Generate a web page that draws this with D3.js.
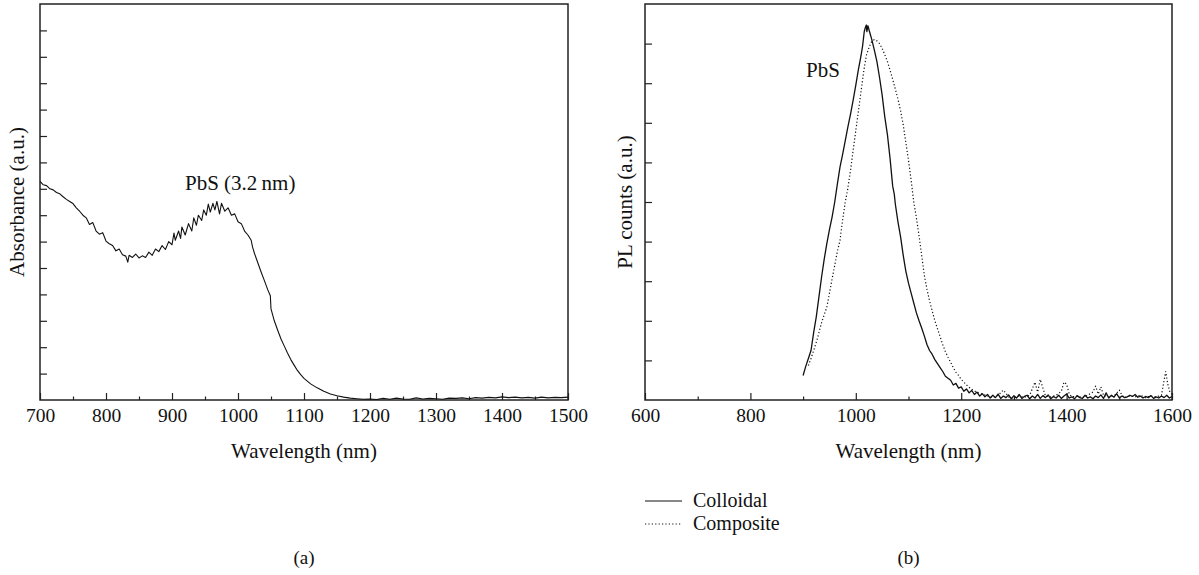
<!DOCTYPE html>
<html>
<head>
<meta charset="utf-8">
<script src="https://cdn.jsdelivr.net/npm/d3@7"></script>
<style>
  body { margin: 0; background: white; }
  svg { display: block; }
  svg text { font-family: "Liberation Serif", "Times New Roman", serif; fill: #111; }
</style>
</head>
<body>
<div id="chart"></div>
<script>
// (a) absorbance spectrum, [wavelength nm, absorbance a.u.]
const absorbance = [
  [700,0.828],[705,0.815],[710,0.812],[715,0.800],[720,0.796],[725,0.786],[730,0.781],[735,0.770],
  [740,0.760],[745,0.752],[750,0.744],[755,0.728],[760,0.715],[765,0.700],[770,0.690],[775,0.665],
  [780,0.672],[785,0.640],[790,0.628],[795,0.634],[800,0.602],[805,0.592],[810,0.585],[815,0.565],
  [820,0.572],[825,0.550],[830,0.545],[833,0.522],[835,0.548],[840,0.540],[845,0.553],[850,0.538],
  [855,0.546],[860,0.540],[865,0.560],[870,0.548],[875,0.572],[880,0.562],[885,0.585],[890,0.570],
  [895,0.600],[900,0.588],[903,0.632],[905,0.605],[910,0.640],[913,0.612],[915,0.655],[920,0.625],
  [925,0.668],[930,0.640],[933,0.690],[937,0.662],[940,0.700],[945,0.680],[948,0.720],[952,0.700],
  [955,0.742],[958,0.712],[962,0.745],[965,0.720],[968,0.752],[972,0.705],[975,0.745],[980,0.715],
  [985,0.728],[990,0.700],[995,0.705],[1000,0.675],[1005,0.668],[1010,0.640],[1015,0.625],[1020,0.605],
  [1022,0.580],[1025,0.555],[1030,0.520],[1035,0.485],[1040,0.452],[1045,0.418],[1049,0.395],[1050,0.345],
  [1055,0.300],[1060,0.265],[1065,0.232],[1070,0.205],[1075,0.178],[1080,0.153],[1085,0.132],[1090,0.112],
  [1095,0.096],[1100,0.082],[1110,0.061],[1120,0.046],[1130,0.033],[1140,0.023],[1150,0.016],[1160,0.011],
  [1170,0.007],[1180,0.005],[1190,0.003],[1200,0.004],[1210,0.002],[1220,0.006],[1230,0.003],[1240,0.007],
  [1250,0.004],[1260,0.003],[1270,0.008],[1280,0.004],[1290,0.006],[1300,0.005],[1310,0.003],[1320,0.007],
  [1330,0.006],[1340,0.008],[1350,0.005],[1360,0.009],[1370,0.007],[1380,0.010],[1390,0.008],[1400,0.012],
  [1410,0.009],[1420,0.011],[1430,0.008],[1440,0.010],[1450,0.007],[1460,0.011],[1470,0.008],[1480,0.010],
  [1490,0.009],[1500,0.011]
];

// (b) photoluminescence, [wavelength nm, counts a.u.]
const colloidal = [
  [900,0.62],[905,0.85],[910,1.05],[915,1.25],[920,1.70],[925,2.10],[930,2.60],[935,3.10],[940,3.55],
  [945,3.95],[950,4.30],[955,4.62],[960,5.00],[965,5.45],[970,5.88],[975,6.20],[980,6.55],[985,6.90],
  [990,7.22],[995,7.57],[1000,7.95],[1005,8.35],[1010,8.70],[1013,8.95],[1016,9.30],[1018,9.40],
  [1020,9.47],[1021,9.30],[1023,9.45],[1025,9.35],[1030,9.12],[1035,8.85],[1040,8.55],[1045,8.15],
  [1050,7.70],[1055,7.15],[1060,6.70],[1065,6.10],[1070,5.40],[1073,5.20],[1075,4.95],[1080,4.50],
  [1085,4.12],[1090,3.65],[1095,3.25],[1100,2.95],[1105,2.70],[1110,2.45],[1115,2.20],[1120,2.00],
  [1125,1.82],[1130,1.62],[1135,1.40],[1140,1.25],[1145,1.15],[1150,1.02],[1155,0.92],[1160,0.82],
  [1165,0.72],[1170,0.60],[1175,0.55],[1180,0.50],[1185,0.38],[1190,0.42],[1195,0.30],[1200,0.33],
  [1205,0.22],[1210,0.28],[1215,0.18],[1220,0.24],[1225,0.14],[1230,0.20],[1235,0.10],[1240,0.16],
  [1245,0.08],[1250,0.14],[1255,0.05],[1260,0.12],[1265,0.06],[1270,0.15],[1275,0.04],[1280,0.10],
  [1285,0.06],[1290,0.13],[1295,0.03],[1300,0.11],[1305,0.05],[1310,0.14],[1315,0.04],[1320,0.09],
  [1325,0.12],[1330,0.03],[1335,0.10],[1340,0.05],[1345,0.14],[1350,0.04],[1355,0.11],[1360,0.06],
  [1365,0.13],[1370,0.03],[1375,0.09],[1380,0.05],[1385,0.12],[1390,0.04],[1395,0.10],[1400,0.15],
  [1405,0.05],[1410,0.08],[1415,0.03],[1420,0.11],[1425,0.06],[1430,0.04],[1435,0.12],[1440,0.05],
  [1445,0.08],[1450,0.03],[1455,0.10],[1460,0.06],[1465,0.13],[1470,0.04],[1475,0.18],[1480,0.05],
  [1485,0.12],[1490,0.07],[1495,0.16],[1500,0.05],[1505,0.10],[1510,0.06],[1515,0.08],[1520,0.12],
  [1525,0.09],[1530,0.14],[1535,0.07],[1540,0.10],[1545,0.05],[1550,0.09],[1555,0.06],[1560,0.11],
  [1565,0.04],[1570,0.08],[1575,0.05],[1580,0.10],[1585,0.06],[1590,0.12],[1595,0.05],[1600,0.09]
];

const composite = [
  [910,0.87],[915,1.05],[920,1.25],[926,1.50],[930,1.70],[935,1.95],[940,2.15],[945,2.34],[950,2.70],
  [955,3.05],[960,3.40],[965,3.75],[970,4.03],[975,4.55],[980,5.00],[985,5.35],[990,5.80],[995,6.31],
  [1000,6.80],[1005,7.30],[1010,7.80],[1015,8.30],[1020,8.70],[1025,8.90],[1030,9.05],[1035,9.10],
  [1040,9.07],[1045,9.00],[1050,8.88],[1055,8.72],[1060,8.55],[1065,8.33],[1070,8.10],[1075,7.85],
  [1080,7.60],[1085,7.30],[1090,6.95],[1095,6.50],[1100,6.05],[1105,5.55],[1110,5.00],[1115,4.60],
  [1120,4.15],[1125,3.65],[1130,3.15],[1135,2.80],[1140,2.50],[1145,2.25],[1150,2.00],[1155,1.80],
  [1160,1.60],[1165,1.40],[1170,1.22],[1175,1.08],[1180,0.95],[1185,0.82],[1190,0.70],[1195,0.62],
  [1200,0.52],[1205,0.45],[1210,0.38],[1215,0.32],[1220,0.27],[1225,0.23],[1230,0.19],[1240,0.15],
  [1250,0.10],[1260,0.06],[1270,0.12],[1280,0.25],[1290,0.08],[1300,0.05],[1310,0.10],[1320,0.07],
  [1330,0.12],[1340,0.45],[1345,0.20],[1350,0.52],[1355,0.30],[1360,0.10],[1370,0.08],[1380,0.12],
  [1390,0.22],[1395,0.45],[1400,0.40],[1405,0.15],[1410,0.08],[1420,0.10],[1430,0.06],[1440,0.12],
  [1450,0.20],[1455,0.35],[1460,0.15],[1465,0.33],[1470,0.12],[1480,0.08],[1490,0.10],[1500,0.25],
  [1505,0.12],[1510,0.06],[1520,0.10],[1530,0.08],[1540,0.12],[1550,0.06],[1560,0.10],[1570,0.08],
  [1580,0.12],[1588,0.72],[1592,0.40],[1596,0.20],[1600,0.15]
];

// tick values
const ticksA = { major: [700,800,900,1000,1100,1200,1300,1400,1500], minor: [750,850,950,1050,1150,1250,1350,1450], y: [0.1,0.2,0.3,0.4,0.5,0.6,0.7,0.8,0.9,1.0,1.1,1.2,1.3,1.4] };
const ticksB = { major: [600,800,1000,1200,1400,1600], minor: [700,900,1100,1300,1500], y: [1,2,3,4,5,6,7,8,9] };
const legendItems = [["Colloidal", null], ["Composite", "1.2,2.2"]];

const W = 1199, H = 575;
const tickFont = 19.5, textFont = 21, legendFont = 20;
const serif = "Liberation Serif";

const svg = d3.select("#chart").append("svg")
    .attr("width", W).attr("height", H);

function drawPanel(p) {
    const x = d3.scaleLinear().domain(p.xDomain).range([p.left, p.right]);
    const y = d3.scaleLinear().domain(p.yDomain).range([p.bottom, p.top]);
    const g = svg.append("g");

    // minor x ticks (inward, short)
    g.append("g").attr("transform", `translate(0,${p.bottom})`)
        .call(d3.axisBottom(x).tickValues(p.ticks.minor).tickSizeInner(-3.5).tickSizeOuter(0).tickFormat(""))
        .call(a => a.select(".domain").remove());

    // major x ticks + labels
    g.append("g").attr("transform", `translate(0,${p.bottom})`)
        .attr("font-family", serif)
        .call(d3.axisBottom(x).tickValues(p.ticks.major).tickSizeInner(-7).tickSizeOuter(0).tickPadding(8).tickFormat(d3.format("d")))
        .call(a => a.select(".domain").remove())
        .call(a => a.selectAll("text").attr("font-family", serif).attr("font-size", tickFont).attr("fill", "#111"));

    // y ticks, no labels
    g.append("g").attr("transform", `translate(${p.left},0)`)
        .call(d3.axisLeft(y).tickValues(p.ticks.y).tickSizeInner(-7).tickSizeOuter(0).tickFormat(""))
        .call(a => a.select(".domain").remove());

    g.selectAll(".tick line").attr("stroke", "#222").attr("stroke-width", 1.2);

    // frame
    g.append("rect")
        .attr("x", p.left).attr("y", p.top)
        .attr("width", p.right - p.left).attr("height", p.bottom - p.top)
        .attr("fill", "none").attr("stroke", "#222").attr("stroke-width", 1.5);

    const line = d3.line().x(d => x(d[0])).y(d => y(d[1]));
    p.series.forEach(s => {
        g.append("path").datum(s.data)
            .attr("fill", "none").attr("stroke", "#111")
            .attr("stroke-width", s.width)
            .attr("stroke-dasharray", s.dash)
            .attr("stroke-linejoin", "round")
            .attr("d", line);
    });

    // labels
    const cx = (p.left + p.right) / 2;
    g.append("text").attr("x", cx).attr("y", 458).attr("text-anchor", "middle")
        .attr("font-family", serif).attr("font-size", textFont).text("Wavelength (nm)");
    g.append("text").attr("x", cx).attr("y", 564).attr("text-anchor", "middle")
        .attr("font-family", serif).attr("font-size", textFont - 2).text(p.tag);
    g.append("text")
        .attr("transform", `translate(${p.titleX},${(p.top + p.bottom) / 2}) rotate(-90)`)
        .attr("text-anchor", "middle").attr("font-family", serif).attr("font-size", textFont).text(p.yTitle);
    g.append("text").attr("x", p.note.x).attr("y", p.note.y)
        .attr("font-family", serif).attr("font-size", textFont).text(p.note.text);

    return { x, y };
}

drawPanel({
    left: 40, right: 568, top: 4, bottom: 400,
    xDomain: [700, 1500], yDomain: [0, 1.5], ticks: ticksA,
    series: [{ data: absorbance, width: 1.1, dash: null }],
    yTitle: "Absorbance (a.u.)", titleX: 24, tag: "(a)",
    note: { x: 185, y: 190, text: "PbS (3.2\u2009nm)" }
});

drawPanel({
    left: 645, right: 1172, top: 4, bottom: 400,
    xDomain: [600, 1600], yDomain: [0, 10], ticks: ticksB,
    series: [{ data: colloidal, width: 1.3, dash: null }, { data: composite, width: 1.2, dash: "1.2,2.2" }],
    yTitle: "PL counts (a.u.)", titleX: 632, tag: "(b)",
    note: { x: 806, y: 77, text: "PbS" }
});

// legend for (b)
const leg = svg.append("g").selectAll("g").data(legendItems).join("g")
    .attr("transform", (d, i) => `translate(645,${501 + i * 23})`);
leg.append("line").attr("x1", 0).attr("x2", 37).attr("y1", 0).attr("y2", 0)
    .attr("stroke", "#111").attr("stroke-width", 1.2).attr("stroke-dasharray", d => d[1]);
leg.append("text").attr("x", 48).attr("y", 6)
    .attr("font-family", serif).attr("font-size", legendFont).text(d => d[0]);
</script>
</body>
</html>
